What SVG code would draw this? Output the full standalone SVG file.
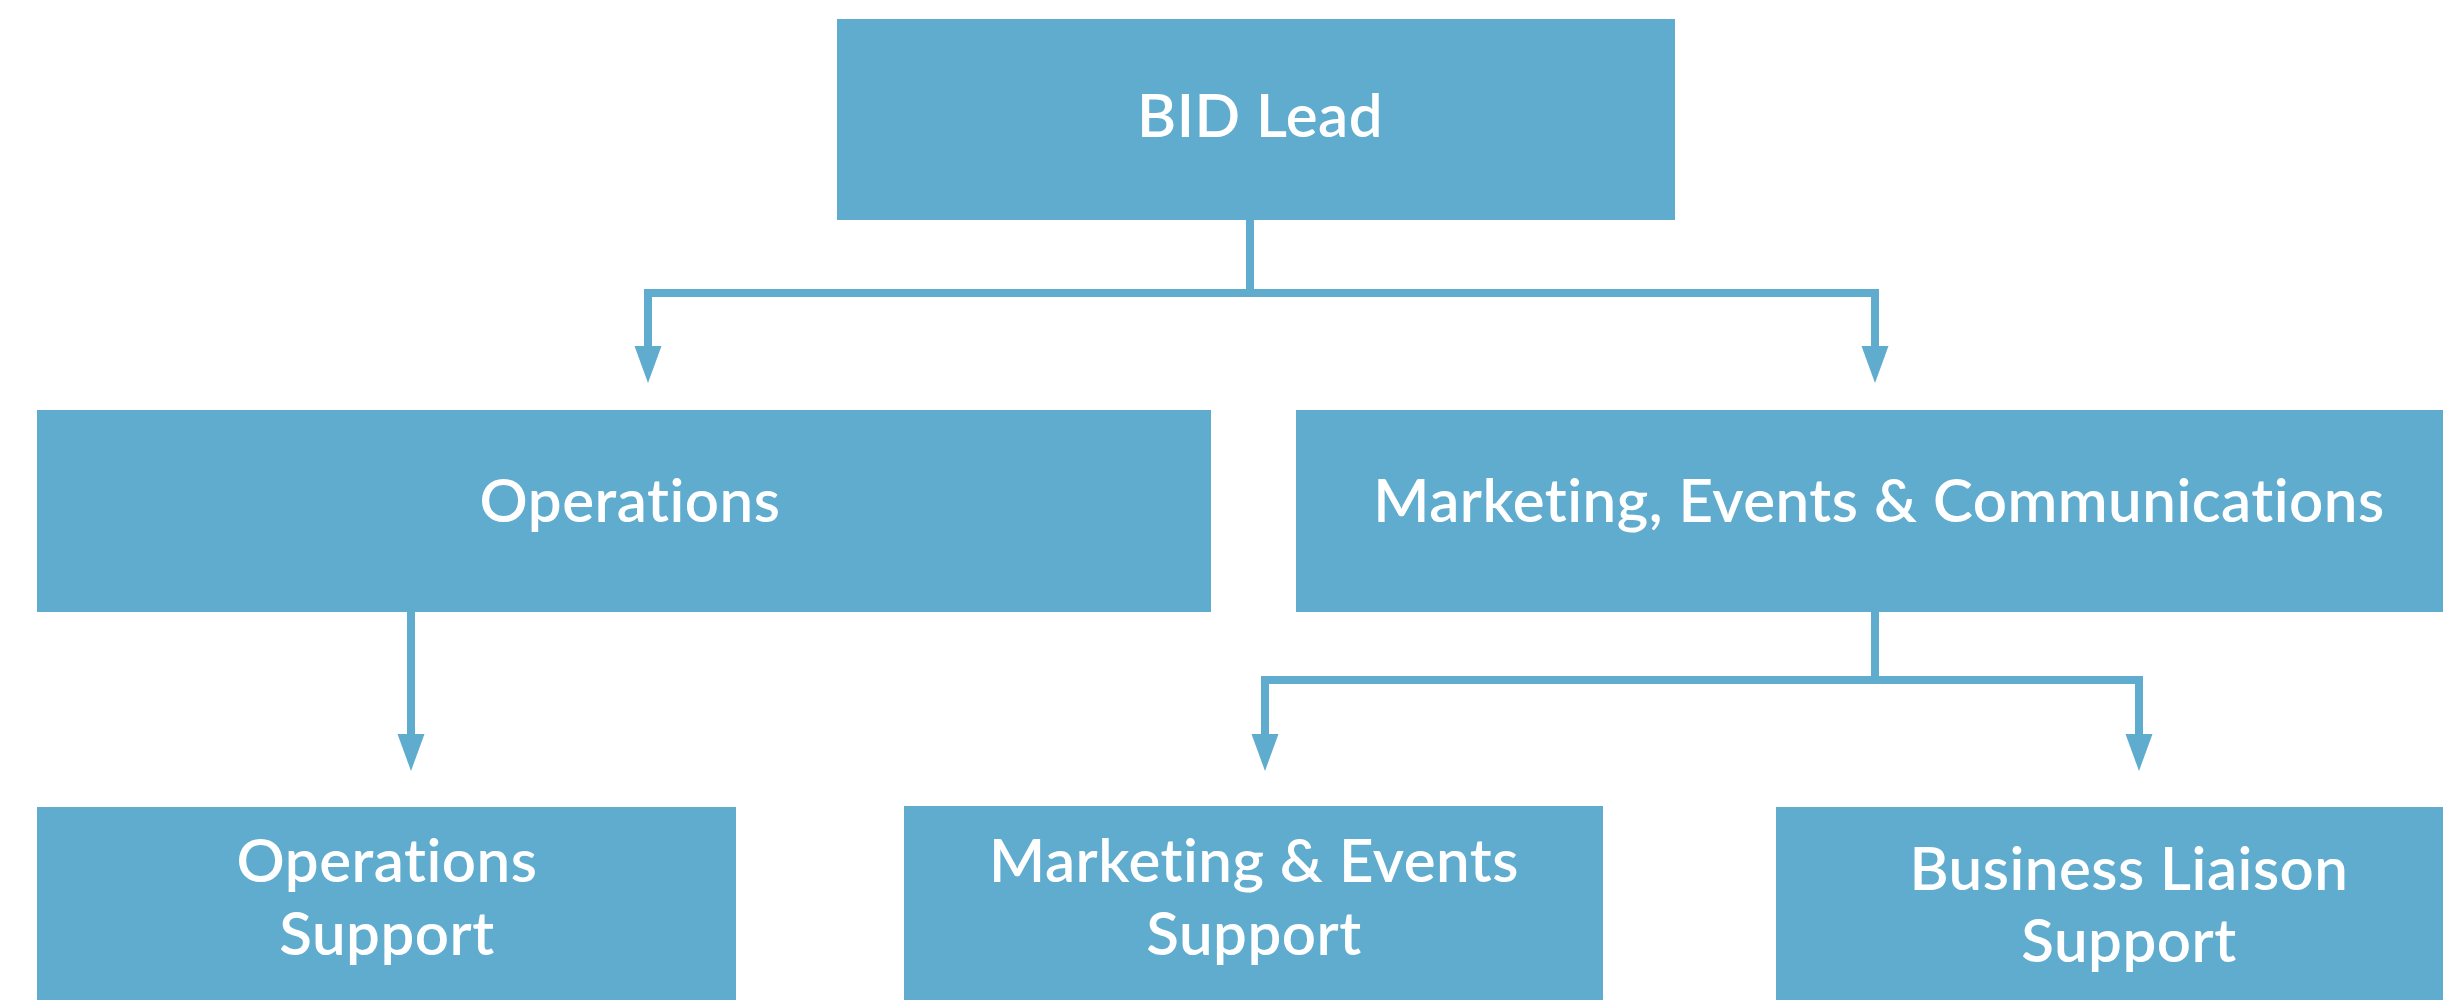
<svg xmlns="http://www.w3.org/2000/svg" width="2443" height="1000" viewBox="0 0 2443 1000">
  <style>
    .box { fill: #5FACCE; }
    .label { fill: #FFFFFF; font-family: Lato, "Noto Sans", "Liberation Sans", sans-serif; font-size: 60px; font-weight: 600; letter-spacing: 0.5px; text-anchor: middle; font-variant-ligatures: none; }
    .wire { fill: none; stroke: #5FACCE; stroke-width: 8; stroke-linecap: butt; stroke-linejoin: miter; }
    .head { fill: #5FACCE; }
  </style>
  <defs>
    <!-- narrow downward arrowhead, tip at origin -->
    <polygon id="arrowhead" class="head" points="-13.5,-37 13.5,-37 0,0"/>
  </defs>
  <rect width="2443" height="1000" fill="#FFFFFF"/>

  <!-- connectors -->
  <g id="connectors">
    <!-- BID Lead to its two departments -->
    <path class="wire" d="M1250,220 V293"/>
    <path class="wire" d="M648,347 V293 H1875 V347"/>
    <use href="#arrowhead" x="648" y="383"/>
    <use href="#arrowhead" x="1875" y="383"/>
    <!-- Operations to Operations Support -->
    <path class="wire" d="M411,612 V735"/>
    <use href="#arrowhead" x="411" y="771"/>
    <!-- Marketing, Events & Communications to its two support roles -->
    <path class="wire" d="M1875,612 V680"/>
    <path class="wire" d="M1265,735 V680 H2139 V735"/>
    <use href="#arrowhead" x="1265" y="771"/>
    <use href="#arrowhead" x="2139" y="771"/>
  </g>

  <g id="bid-lead">
    <rect class="box" x="837" y="19" width="838" height="201"/>
    <text class="label" x="1260" y="137">BID Lead</text>
  </g>

  <g id="operations">
    <rect class="box" x="37" y="410" width="1174" height="202"/>
    <text class="label" x="630" y="522">Operations</text>
  </g>

  <g id="marketing-events-communications">
    <rect class="box" x="1296" y="410" width="1166" height="202"/>
    <text class="label" x="1879" y="522">Marketing, Events &amp; Communications</text>
  </g>

  <g id="operations-support">
    <rect class="box" x="37" y="807" width="699" height="200"/>
    <text class="label" x="387" y="882">Operations</text>
    <text class="label" x="387" y="955">Support</text>
  </g>

  <g id="marketing-events-support">
    <rect class="box" x="904" y="806" width="699" height="201"/>
    <text class="label" x="1254" y="882">Marketing &amp; Events</text>
    <text class="label" x="1254" y="955">Support</text>
  </g>

  <g id="business-liaison-support">
    <rect class="box" x="1776" y="807" width="706" height="200"/>
    <text class="label" x="2129" y="890">Business Liaison</text>
    <text class="label" x="2129" y="962">Support</text>
  </g>
</svg>
